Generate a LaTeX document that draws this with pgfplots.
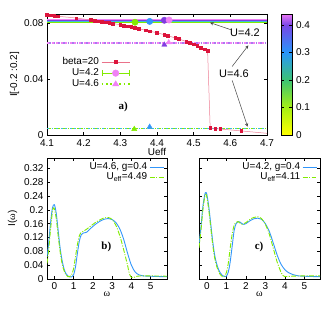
\documentclass[border=0pt]{standalone}
\usepackage{pgfplots}
\pgfplotsset{compat=1.18}
\usepackage{fontspec}
\setmainfont{Liberation Sans}
\newfontfamily\serif{Liberation Serif}
\definecolor{cred}{RGB}{220,20,60}
\definecolor{cgreen}{RGB}{130,235,0}
\definecolor{cblue}{RGB}{50,150,250}
\definecolor{cpurple}{RGB}{130,60,225}
\definecolor{cviol}{RGB}{170,120,240}
\definecolor{cpink}{RGB}{240,130,245}
\definecolor{cteal}{RGB}{60,190,220}
\begin{document}
\begin{tikzpicture}
\useasboundingbox (0,0) rectangle (334bp,314bp);
\pgfplotsset{every axis/.append style={scale only axis, tick align=inside,
  font=\fontsize{10}{11}\selectfont,
  /pgf/number format/assume math mode=true,
  axis line style={line width=0.7pt}, tick style={black, line width=0.5pt},
  major tick length=3bp}}
%---------------- top panel ----------------
\begin{axis}[at={(47bp,179bp)}, anchor=south west, width=220bp, height=121bp,
  xmin=4.1, xmax=4.7, ymin=0, ymax=0.0865,
  xtick={4.1,4.2,4.3,4.4,4.5,4.6,4.7}, ytick={0,0.04,0.08},
  scaled y ticks=false, scaled x ticks=false,
  yticklabel style={/pgf/number format/fixed, /pgf/number format/precision=2},
  xticklabel style={/pgf/number format/fixed, /pgf/number format/precision=1, yshift=-1bp},
  xlabel={Ueff}, ylabel={I[-0.2 :0.2]},
  xlabel style={yshift=5bp}, ylabel style={yshift=-2bp},
  colormap={mymap}{rgb255(0cm)=(255,255,0); rgb255(1cm)=(165,240,20); rgb255(2cm)=(60,195,115); rgb255(3cm)=(40,150,250); rgb255(4cm)=(120,70,230); rgb255(4.4cm)=(235,120,245)},
  colorbar, point meta min=0, point meta max=0.44,
  colorbar style={at={(parent axis.north east)}, anchor=north west, xshift=6bp,
    width=11bp, height=121bp, scale only axis,
    ytick={0,0.1,0.2,0.3,0.4},
    yticklabel style={/pgf/number format/fixed, /pgf/number format/precision=1},
    font=\fontsize{10}{11}\selectfont, tick align=inside, major tick length=3bp,
    /pgf/number format/assume math mode=true},
  legend style={at={(0.385,0.665)}, anchor=north east, draw=none, fill=none,
    font=\fontsize{10}{10}\selectfont, row sep=-1.5pt, inner sep=1pt},
  legend cell align=right, legend plot pos=right,
]
\addlegendimage{legend image code/.code={\draw[cred!60, line width=0.6pt] (0bp,0bp) -- (28bp,0bp); \fill[cred] (12.5bp,-1.6bp) rectangle (15.5bp,1.6bp);}}
\addlegendentry{beta=20}
\addlegendimage{legend image code/.code={\draw[cgreen, line width=1.2pt] (0bp,0bp) -- (28bp,0bp); \draw[cgreen, line width=1.2pt] (0.6bp,-3bp)--(0.6bp,3bp) (27.4bp,-3bp)--(27.4bp,3bp); \fill[cpink] (14bp,0bp) circle (3.3bp);}}
\addlegendentry{U=4.2}
\addlegendimage{legend image code/.code={\draw[cgreen, line width=1.6pt, dash pattern=on 1.8pt off 2.6pt] (0bp,0bp) -- (28bp,0bp); \fill[cpink] (14bp,3.3bp) -- (10.8bp,-1.9bp) -- (17.2bp,-1.9bp) -- cycle;}}
\addlegendentry{U=4.6}
% horizontal error-bar lines (U=4.2)
\addplot[forget plot, cgreen, line width=1.2pt] coordinates {(4.1,0.0806) (4.7,0.0806)};
\addplot[forget plot, cteal, line width=1.0pt] coordinates {(4.1,0.0812) (4.7,0.0812)};
\addplot[forget plot, cpurple, line width=1.0pt] coordinates {(4.1,0.0822) (4.7,0.0822)};
\addplot[forget plot, cpink, line width=1.2pt] coordinates {(4.1,0.0826) (4.7,0.0826)};
% dotted lines (U=4.6)
\addplot[forget plot, color=cpink, line width=1.8pt, dash pattern=on 2pt off 2.6pt] coordinates {(4.1,0.0655) (4.7,0.0655)};
\addplot[forget plot, color=cviol, line width=1.8pt, dash pattern=on 1.6pt off 3pt, dash phase=2.3pt] coordinates {(4.1,0.0655) (4.7,0.0655)};
\addplot[forget plot, color=cteal, line width=1.6pt, dash pattern=on 1.8pt off 2.8pt] coordinates {(4.1,0.0047) (4.7,0.0047)};
\addplot[forget plot, color=cgreen, line width=1.6pt, dash pattern=on 1.8pt off 2.8pt, dash phase=2.3pt] coordinates {(4.1,0.0047) (4.7,0.0047)};
% beta=20
\addplot[forget plot, cred!55, line width=0.5pt, mark=square*, mark size=1.3pt, mark options={cred, solid}] coordinates {
(4.100,0.0858) (4.110,0.0855) (4.120,0.0852) (4.130,0.0849) (4.180,0.0836)
(4.220,0.0822) (4.230,0.0818) (4.240,0.0814) (4.250,0.0810) (4.260,0.0806)
(4.270,0.0802) (4.280,0.0797) (4.300,0.0788) (4.310,0.0783) (4.320,0.0778)
(4.330,0.0773) (4.340,0.0768) (4.350,0.0760) (4.370,0.0748) (4.380,0.0742)
(4.400,0.0731) (4.420,0.0717) (4.430,0.0709) (4.450,0.0694) (4.460,0.0686)
(4.480,0.0668) (4.490,0.0659) (4.500,0.0648) (4.510,0.0636) (4.520,0.0624)
(4.530,0.0612) (4.538,0.0603) (4.545,0.0052) (4.559,0.0045) (4.572,0.0043)
(4.630,0.0029)};
\addplot[forget plot, cred!55, line width=0.5pt] coordinates {(4.630,0.0029) (4.700,0.0012)};
% circles and triangles
\addplot[forget plot, only marks, mark=*, mark size=3.2pt, cgreen] coordinates {(4.34,0.0806)};
\addplot[forget plot, only marks, mark=*, mark size=3.2pt, cblue] coordinates {(4.38,0.0812)};
\addplot[forget plot, only marks, mark=*, mark size=3.2pt, cpurple] coordinates {(4.42,0.0820)};
\addplot[forget plot, only marks, mark=*, mark size=3.2pt, cpink] coordinates {(4.433,0.0822)};
\addplot[forget plot, only marks, mark=triangle*, mark size=3pt, cpurple] coordinates {(4.42,0.0645)};
\addplot[forget plot, only marks, mark=triangle*, mark size=3pt, cpink] coordinates {(4.432,0.0662)};
\addplot[forget plot, only marks, mark=triangle*, mark size=3pt, cgreen] coordinates {(4.338,0.0042)};
\addplot[forget plot, only marks, mark=triangle*, mark size=3pt, cblue] coordinates {(4.38,0.0058)};
% annotations
\draw[->, >=stealth, black!75, line width=0.5pt] (axis cs:4.602,0.0752) -- (axis cs:4.545,0.0803);
\node[font=\fontsize{11}{12}\selectfont] at (axis cs:4.64,0.0733) {U=4.2};
\node[font=\fontsize{11}{12}\selectfont] at (axis cs:4.61,0.0436) {U=4.6};
\draw[->, >=stealth, black!75, line width=0.5pt] (axis cs:4.605,0.0490) -- (axis cs:4.649,0.0640);
\draw[->, >=stealth, black!75, line width=0.5pt] (axis cs:4.605,0.0390) -- (axis cs:4.647,0.0060);
\node[font=\serif\bfseries\fontsize{11}{12}\selectfont] at (axis cs:4.308,0.0202) {a)};
\end{axis}
%---------------- bottom left ----------------
\begin{axis}[at={(47bp,35bp)}, anchor=south west, width=120bp, height=121bp,
  xmin=-0.38, xmax=5.85, ymin=0, ymax=0.35,
  xtick={0,1,2,3,4,5}, ytick={0,0.04,0.08,0.12,0.16,0.2,0.24,0.28,0.32},
  scaled y ticks=false,
  yticklabel style={/pgf/number format/fixed, /pgf/number format/precision=2},
  xlabel={\serif ω}, ylabel={I(\serif ω\sffamily\fontspec{Liberation Sans})},
  xlabel style={yshift=5bp},
  legend style={at={(0.985,0.985)}, anchor=north east, draw=none, fill=none,
    font=\fontsize{10}{10}\selectfont, row sep=-2.5pt, inner sep=1pt},
  legend cell align=right, legend plot pos=right,
  legend image code/.code={\draw[#1] (0bp,0bp) -- (14bp,0bp);},
]
\addplot[cblue, line width=0.9pt, smooth] coordinates {
(-0.38,0.065) (-0.3,0.10) (-0.2,0.16) (-0.1,0.205) (0.0,0.215) (0.1,0.19)
(0.2,0.14) (0.3,0.09) (0.4,0.055) (0.5,0.03) (0.6,0.016) (0.7,0.009)
(0.8,0.006) (0.9,0.006) (1.0,0.012) (1.1,0.035) (1.2,0.075) (1.3,0.11)
(1.4,0.128) (1.5,0.133) (1.6,0.134) (1.7,0.136) (1.8,0.142) (2.0,0.152)
(2.2,0.161) (2.4,0.168) (2.6,0.173) (2.8,0.175) (3.0,0.172) (3.2,0.163)
(3.4,0.145) (3.6,0.115) (3.8,0.075) (4.0,0.04) (4.2,0.02) (4.4,0.012)
(4.6,0.009) (5.0,0.008) (5.5,0.007) (5.85,0.007)};
\addlegendentry{U=4.6, g=0.4}
\addplot[cgreen, line width=0.9pt, smooth, dash pattern=on 5pt off 1.5pt on 1pt off 1.5pt] coordinates {
(-0.38,0.045) (-0.3,0.08) (-0.2,0.14) (-0.1,0.195) (-0.05,0.205) (0.0,0.203)
(0.1,0.175) (0.2,0.125) (0.3,0.08) (0.4,0.045) (0.5,0.025) (0.6,0.012)
(0.7,0.007) (0.8,0.007) (0.9,0.012) (1.0,0.03) (1.1,0.065) (1.2,0.10)
(1.3,0.125) (1.4,0.135) (1.5,0.138) (1.7,0.145) (2.0,0.158) (2.2,0.166)
(2.4,0.172) (2.6,0.177) (2.8,0.178) (3.0,0.172) (3.2,0.155) (3.4,0.125)
(3.6,0.085) (3.8,0.04) (3.9,0.015) (4.0,0.005) (4.1,0.004) (4.3,0.008)
(4.6,0.009) (5.0,0.009) (5.85,0.008)};
\addlegendentry{U\textsubscript{eff}=4.49}
\node[font=\serif\bfseries\fontsize{11}{12}\selectfont] at (axis cs:2.7,0.092) {b)};
\end{axis}
%---------------- bottom right ----------------
\begin{axis}[at={(199bp,35bp)}, anchor=south west, width=121bp, height=121bp,
  xmin=-0.4, xmax=5.8, ymin=0, ymax=0.35,
  xtick={0,1,2,3,4,5}, ytick={0,0.04,0.08,0.12,0.16,0.2,0.24,0.28,0.32},
  yticklabels={},
  xlabel={\serif ω},
  xlabel style={yshift=5bp},
  legend style={at={(0.985,0.985)}, anchor=north east, draw=none, fill=none,
    font=\fontsize{10}{10}\selectfont, row sep=-2.5pt, inner sep=1pt},
  legend cell align=right, legend plot pos=right,
  legend image code/.code={\draw[#1] (0bp,0bp) -- (14bp,0bp);},
]
\addplot[cblue, line width=0.9pt, smooth] coordinates {
(-0.4,0.10) (-0.3,0.15) (-0.2,0.21) (-0.1,0.245) (-0.05,0.25) (0.0,0.245)
(0.1,0.21) (0.2,0.16) (0.3,0.11) (0.4,0.07) (0.5,0.045) (0.6,0.028)
(0.7,0.017) (0.8,0.01) (0.9,0.007) (1.0,0.008) (1.1,0.02) (1.2,0.05)
(1.3,0.095) (1.4,0.14) (1.5,0.16) (1.6,0.166) (1.7,0.165) (1.8,0.16)
(1.9,0.158) (2.0,0.16) (2.2,0.168) (2.4,0.174) (2.6,0.176) (2.8,0.173)
(3.0,0.16) (3.2,0.138) (3.4,0.105) (3.6,0.07) (3.8,0.043) (4.0,0.027)
(4.2,0.018) (4.4,0.013) (4.7,0.009) (5.0,0.008) (5.5,0.007) (5.8,0.007)};
\addlegendentry{U=4.2, g=0.4}
\addplot[cgreen, line width=0.9pt, smooth, dash pattern=on 5pt off 1.5pt on 1pt off 1.5pt] coordinates {
(-0.4,0.09) (-0.3,0.14) (-0.2,0.2) (-0.1,0.24) (-0.05,0.245) (0.0,0.238)
(0.1,0.2) (0.2,0.15) (0.3,0.10) (0.4,0.062) (0.5,0.038) (0.6,0.022)
(0.7,0.012) (0.8,0.007) (0.9,0.008) (1.0,0.018) (1.1,0.045) (1.2,0.09)
(1.3,0.13) (1.4,0.155) (1.5,0.164) (1.6,0.166) (1.7,0.162) (1.8,0.158)
(2.0,0.163) (2.2,0.172) (2.4,0.178) (2.6,0.18) (2.8,0.175) (3.0,0.158)
(3.2,0.13) (3.4,0.09) (3.6,0.05) (3.8,0.02) (3.9,0.01) (4.0,0.007)
(4.3,0.008) (5.0,0.009) (5.8,0.009)};
\addlegendentry{U\textsubscript{eff}=4.11}
\node[font=\serif\bfseries\fontsize{11}{12}\selectfont] at (axis cs:2.68,0.094) {c)};
\end{axis}
\end{tikzpicture}
\end{document}
